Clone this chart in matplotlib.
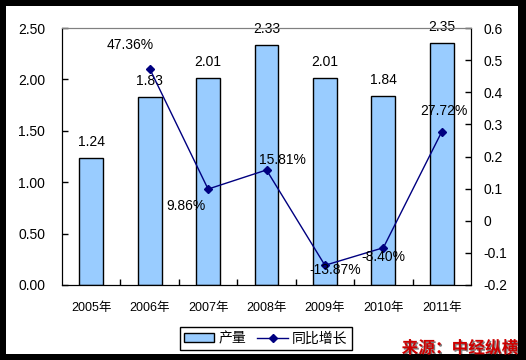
import numpy as np
import matplotlib.pyplot as plt
import matplotlib.patheffects as pe
from matplotlib.patches import Rectangle

plt.rcParams['font.family'] = ['Liberation Sans', 'Noto Sans CJK SC']

years = ["2005年", "2006年", "2007年", "2008年", "2009年", "2010年", "2011年"]
output = [1.24, 1.83, 2.01, 2.33, 2.01, 1.84, 2.35]
growth = [0.4736, 0.0986, 0.1581, -0.1387, -0.0840, 0.2772]
growth_labels = ["47.36%", "9.86%", "15.81%", "-13.87%", "-8.40%", "27.72%"]
# label offsets in pixels from each point
growth_offsets = [(-19, 24), (-22, -17), (16, 10), (10, -5), (0, -9), (2, 21)]

fig = plt.figure(figsize=(5.26, 3.6), dpi=100)
fig.patch.set_facecolor("black")
fig.patches.append(Rectangle((6 / 526, 6 / 360), 512 / 526, 348 / 360,
                             transform=fig.transFigure, facecolor="white",
                             edgecolor="none", zorder=-10))

ax = fig.add_axes([62 / 526, 75 / 360, 409 / 526, 257 / 360])
ax.set_facecolor("none")
x = np.arange(len(years))

ax.bar(x, output, width=0.41, color="#99ccff", edgecolor="black", linewidth=1, zorder=2)
for xi, v in zip(x, output):
    ax.annotate(f"{v:.2f}", (xi, v), textcoords="offset pixels", xytext=(0, 16),
                ha="center", va="center", fontsize=10)

ax.set_xlim(-0.5, len(years) - 0.5)
ax.set_ylim(0, 2.5)
ax.set_yticks(np.arange(0, 2.51, 0.5))
ax.set_yticklabels([f"{t:.2f}" for t in np.arange(0, 2.51, 0.5)], fontsize=10)
ax.set_xticks(x)
ax.set_xticklabels(years, fontsize=9)
ax.set_xticks(np.arange(0.5, len(years) - 0.5, 1), minor=True)
ax.tick_params(axis="x", which="major", length=0, pad=12)
ax.tick_params(axis="x", which="minor", direction="in", length=4, width=1)
ax.tick_params(axis="y", direction="in", length=4, width=1, pad=12)
ax.spines["top"].set_color("#808080")
for s in ("left", "bottom", "right"):
    ax.spines[s].set_color("black")

ax2 = ax.twinx()
ax2.plot(x[1:], growth, color="#000080", linewidth=1, marker="D", markersize=4, zorder=3)
for xi, v, lab, off in zip(x[1:], growth, growth_labels, growth_offsets):
    ax2.annotate(lab, (xi, v), textcoords="offset pixels", xytext=off,
                 ha="center", va="center", fontsize=10)
ax2.set_ylim(-0.2, 0.6)
rticks = [-0.2, -0.1, 0, 0.1, 0.2, 0.3, 0.4, 0.5, 0.6]
ax2.set_yticks(rticks)
ax2.set_yticklabels(["-0.2", "-0.1", "0", "0.1", "0.2", "0.3", "0.4", "0.5", "0.6"], fontsize=10)
ax2.tick_params(axis="y", direction="in", length=4, width=1, pad=9)
ax2.spines["top"].set_color("#808080")
ax2.spines["right"].set_color("black")

h1 = Rectangle((0, 0), 1, 1, facecolor="#99ccff", edgecolor="black")
h2, = ax2.plot([], [], color="#000080", linewidth=1, marker="D", markersize=4)
leg = fig.legend([h1, h2], ["产量", "同比增长"], loc="center", bbox_to_anchor=(0.505, 0.06),
                 ncol=2, fontsize=10, fancybox=False, edgecolor="black", framealpha=1,
                 handlelength=2.2, handleheight=0.6, columnspacing=0.8, handletextpad=0.3,
                 borderpad=0.3)
leg.get_frame().set_linewidth(1)

fig.text(518 / 526, 12 / 360, "来源：中经纵横", ha="right", va="center", fontsize=12,
         fontweight="bold", style="italic", color="#cc0000",
         path_effects=[pe.withSimplePatchShadow(offset=(1, -1), shadow_rgbFace="black", alpha=0.5)])

fig.savefig("out.png", dpi=100, facecolor=fig.get_facecolor())
